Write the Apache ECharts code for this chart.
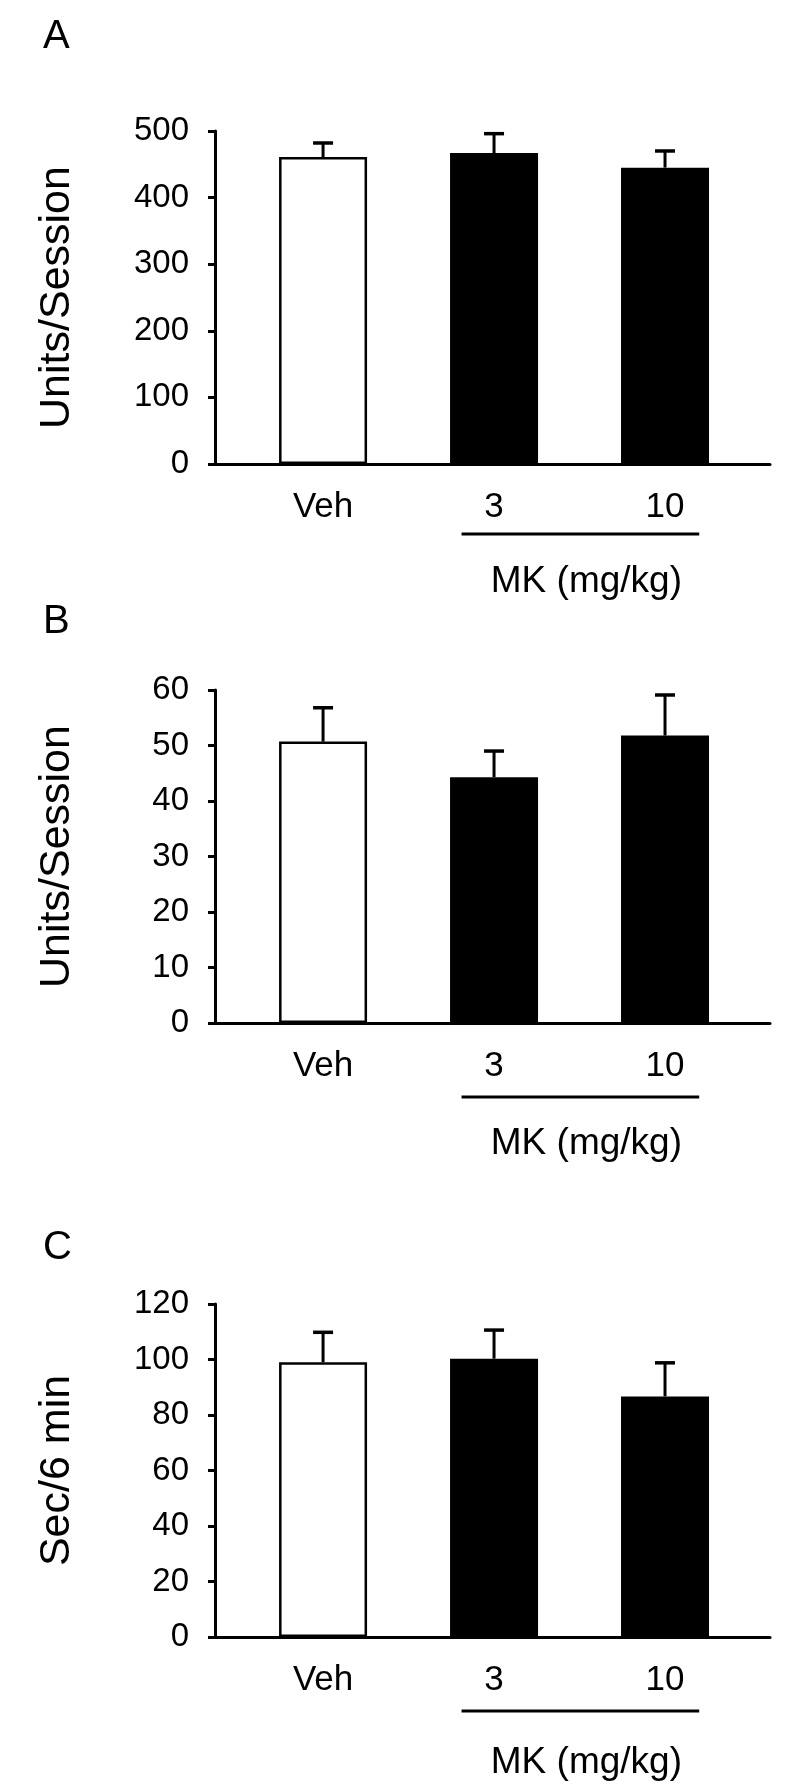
<!DOCTYPE html>
<html>
<head>
<meta charset="utf-8">
<script src="https://cdn.jsdelivr.net/npm/echarts@6/dist/echarts.min.js"></script>
<style>
html,body{margin:0;padding:0;background:#fff;}
#c{width:800px;height:1791px;}
</style>
</head>
<body>
<div id="c"></div>
<script>
// ---- data ----
const categories = ['Veh', '3', '10'];
const panelLetters = ['A', 'B', 'C'];
const yTitles = ['Units/Session', 'Units/Session', 'Sec/6 min'];
const groupLabel = 'MK (mg/kg)';
const yMax = [500, 60, 120];
const yInterval = [100, 10, 20];
const meansA = [461, 467, 445];
const semA = [21, 29, 25];
const meansB = [50.7, 44.3, 51.8];
const semB = [6.1, 4.7, 7.3];
const meansC = [99.0, 100.3, 86.7];
const semC = [10.8, 10.3, 12.1];

const means = [meansA, meansB, meansC];
const sems = [semA, semB, semC];

// ---- layout ----
const FONT = 'Liberation Sans, Arial, sans-serif';
const gridTops = [131, 690, 1304];
const gridH = 333;
const gridLeft = 215, gridRight = 30;
const xMin = -0.632, xMax = 2.614;
const letterTops = [12, 597, 1223];

const chart = echarts.init(document.getElementById('c'), null, {renderer: 'canvas'});

const grids = [], xAxes = [], yAxes = [], series = [], titles = [], graphics = [];

for (let p = 0; p < 3; p++) {
  grids.push({left: gridLeft, right: gridRight, top: gridTops[p], height: gridH, containLabel: false});
  xAxes.push({
    type: 'value', gridIndex: p, min: xMin, max: xMax,
    splitLine: {show: false},
    axisLine: {show: true, onZero: false, lineStyle: {color: '#000', width: 3}},
    axisTick: {show: false},
    axisLabel: {
      customValues: [0, 1, 2],
      formatter: v => categories[Math.round(v)],
      color: '#000', fontSize: 35, fontFamily: FONT, margin: 26
    }
  });
  yAxes.push({
    type: 'value', gridIndex: p, min: 0, max: yMax[p], interval: yInterval[p],
    name: yTitles[p], nameLocation: 'middle', nameGap: 136, nameRotate: 90,
    nameTextStyle: {color: '#000', fontSize: 43, fontFamily: FONT},
    splitLine: {show: false},
    axisLine: {show: true, onZero: false, lineStyle: {color: '#000', width: 3}},
    axisTick: {show: true, inside: false, length: 7, lineStyle: {color: '#000', width: 3}},
    axisLabel: {color: '#000', fontSize: 33, fontFamily: FONT, margin: 26}
  });
  const m = means[p], s = sems[p];
  series.push({
    type: 'bar', xAxisIndex: p, yAxisIndex: p, barWidth: 88, z: 2,
    data: categories.map((c, i) => ({
      value: [i, m[i]],
      itemStyle: i === 0
        ? {color: '#fff', borderColor: '#000', borderWidth: 2.5}
        : {color: '#000', borderColor: '#000', borderWidth: 0}
    }))
  });
  series.push({
    type: 'custom', xAxisIndex: p, yAxisIndex: p, z: 3,
    data: categories.map((c, i) => [i, m[i], m[i] + s[i]]),
    encode: {x: 0, y: [1, 2]},
    renderItem: function (params, api) {
      const base = api.coord([api.value(0), api.value(1)]);
      const top = api.coord([api.value(0), api.value(2)]);
      return {
        type: 'group',
        children: [
          {type: 'line', shape: {x1: base[0], y1: base[1], x2: top[0], y2: top[1]},
           style: {stroke: '#000', lineWidth: 3}},
          {type: 'line', shape: {x1: top[0] - 10, y1: top[1], x2: top[0] + 10, y2: top[1]},
           style: {stroke: '#000', lineWidth: 3.5}}
        ]
      };
    }
  });
  titles.push({text: panelLetters[p], left: 38, top: letterTops[p],
    textStyle: {color: '#000', fontSize: 40, fontWeight: 'normal', fontFamily: FONT}});
}

chart.setOption({
  animation: false,
  backgroundColor: '#fff',
  title: titles,
  grid: grids,
  xAxis: xAxes,
  yAxis: yAxes,
  series: series
});

// group underline and label, placed from the axis scale
const underlineOffsets = [70, 74, 74];
const textOffsets = [99, 102, 107];
for (let p = 0; p < 3; p++) {
  const zeroY = chart.convertToPixel({yAxisIndex: p}, 0);
  const xa = chart.convertToPixel({xAxisIndex: p}, 0.81);
  const xb = chart.convertToPixel({xAxisIndex: p}, 2.2);
  graphics.push({type: 'line', shape: {x1: xa, y1: zeroY + underlineOffsets[p], x2: xb, y2: zeroY + underlineOffsets[p]},
    style: {stroke: '#000', lineWidth: 3}});
  graphics.push({type: 'text', x: (xa + xb) / 2 + 6, y: zeroY + textOffsets[p],
    style: {text: groupLabel, fill: '#000', font: '37px ' + FONT, textAlign: 'center', textVerticalAlign: 'top'}});
}
chart.setOption({graphic: graphics});
</script>
</body>
</html>
